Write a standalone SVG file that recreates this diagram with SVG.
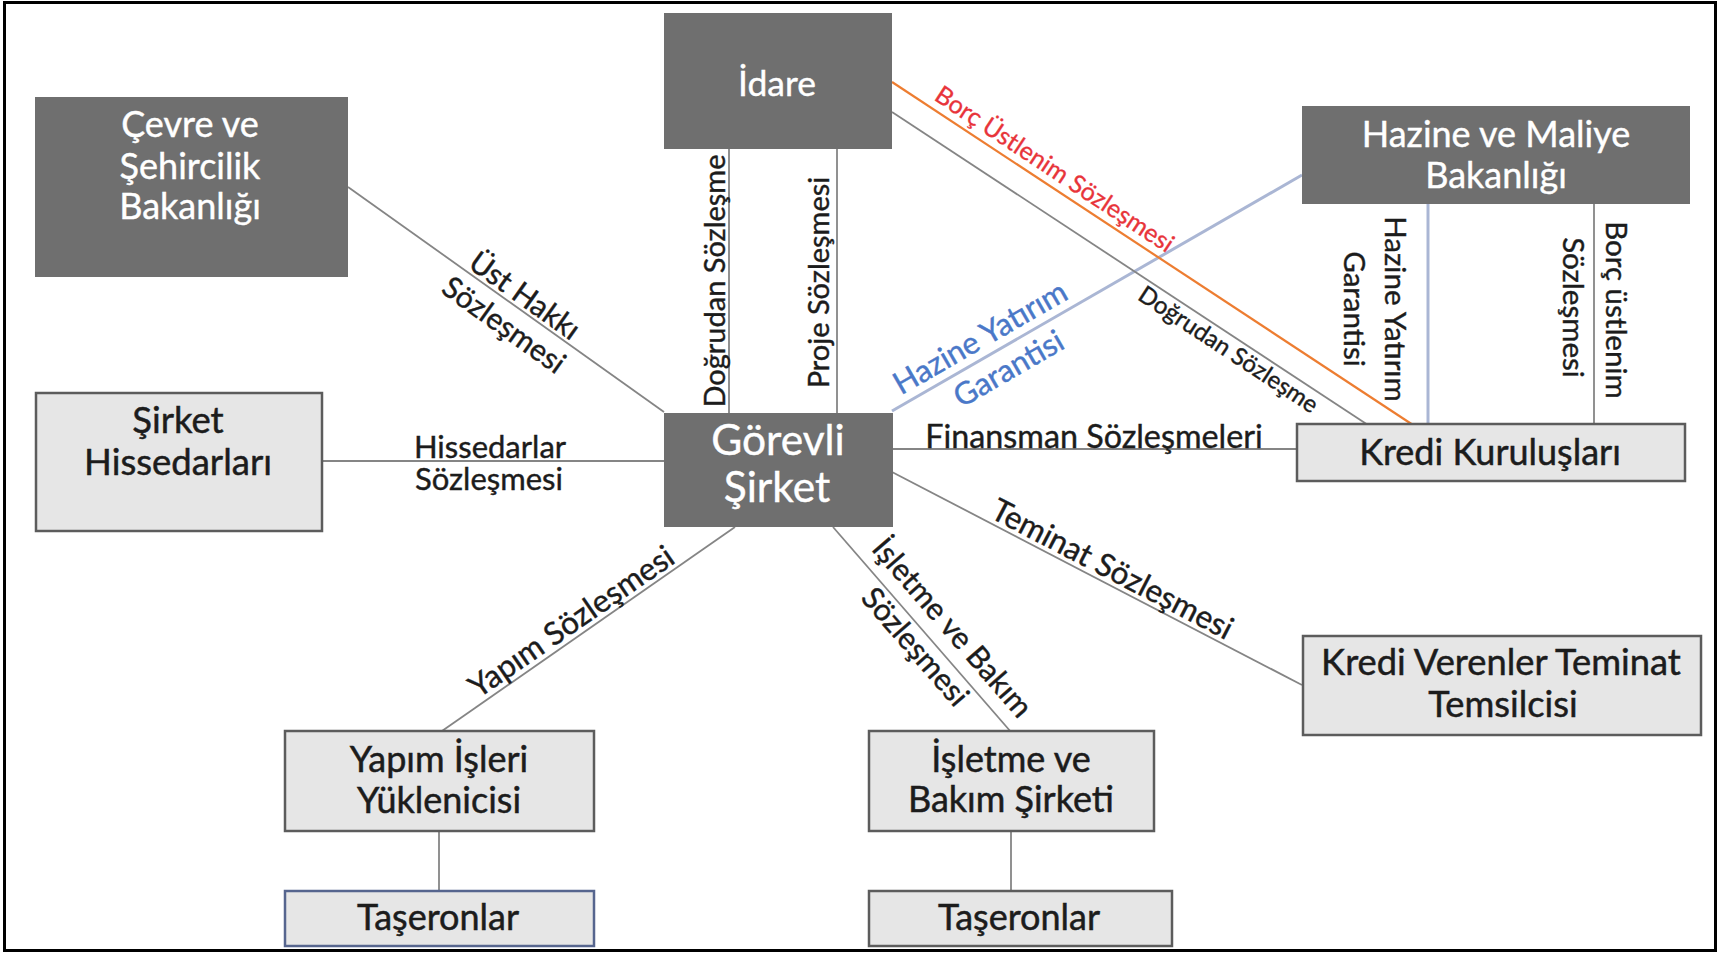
<svg xmlns="http://www.w3.org/2000/svg" width="1719" height="954" viewBox="0 0 1719 954">
<style>
.dark{fill:#6f6f6f}
.light{fill:#e6e6e6;stroke:#5c5c5c;stroke-width:2.5}
.blueb{fill:#e6e6e6;stroke:#56658e;stroke-width:2.5}
.wt{font-family:Lato,"Liberation Sans",sans-serif;fill:#ffffff;stroke:#ffffff;stroke-width:0.4;text-anchor:middle}
.bt{font-family:Lato,"Liberation Sans",sans-serif;fill:#1c1c1c;stroke:#1c1c1c;stroke-width:0.5;text-anchor:middle}
.lb{font-family:Lato,"Liberation Sans",sans-serif;fill:#1c1c1c;stroke:#1c1c1c;stroke-width:0.4;text-anchor:middle}
.blt{fill:#4a78c8;stroke:#4a78c8}
.rdt{fill:#e8343a;stroke:#e8343a;stroke-width:0.3}
.ln{stroke:#858585;stroke-width:1.8;fill:none}
.bl{stroke:#aab6d4;stroke-width:3;fill:none}
.or{stroke:#ed7d31;stroke-width:2.2;fill:none}
</style>
<rect x="0" y="0" width="1719" height="954" fill="#ffffff"/>
<rect x="4.5" y="2.5" width="1711" height="948" fill="none" stroke="#000" stroke-width="3"/>

<g id="connectors">
  <line class="ln" x1="348" y1="187" x2="664" y2="412"/>
  <line class="ln" x1="322" y1="461" x2="664" y2="461"/>
  <line class="ln" x1="729" y1="149" x2="729" y2="413"/>
  <line class="ln" x1="837" y1="149" x2="837" y2="413"/>
  <line class="ln" x1="735" y1="527" x2="442" y2="731"/>
  <line class="ln" x1="833" y1="527" x2="1011" y2="732"/>
  <line class="ln" x1="892" y1="472" x2="1302" y2="685"/>
  <line class="ln" x1="892" y1="449" x2="1297" y2="449"/>
  <line class="bl" x1="892" y1="411" x2="1302" y2="175"/>
  <line class="ln" x1="892" y1="112" x2="1368" y2="425"/>
  <line class="or" x1="892" y1="82" x2="1413" y2="425"/>
  <line class="bl" x1="1428" y1="204" x2="1428" y2="425" stroke-width="2.2"/>
  <line class="ln" x1="1594" y1="204" x2="1594" y2="425"/>
  <line class="ln" x1="439" y1="831" x2="439" y2="891"/>
  <line class="ln" x1="1011" y1="831" x2="1011" y2="891"/>

  <g transform="translate(516.5,307.3) rotate(35.5)">
    <text class="lb" x="0" y="-4" font-size="30">Üst Hakkı</text>
    <text class="lb" x="0" y="32" font-size="30">Sözleşmesi</text>
  </g>
  <text class="lb" x="490" y="458" font-size="31">Hissedarlar</text>
  <text class="lb" x="489" y="490" font-size="31">Sözleşmesi</text>
  <text class="lb" font-size="29" transform="translate(725,281) rotate(-90)">Doğrudan Sözleşme</text>
  <text class="lb" font-size="29" transform="translate(829,282.5) rotate(-90)">Proje Sözleşmesi</text>
  <g transform="translate(993.8,351.3) rotate(-30)">
    <text class="lb blt" x="-5" y="-8" font-size="31">Hazine Yatırım</text>
    <text class="lb blt" x="4" y="33" font-size="31">Garantisi</text>
  </g>
  <text class="lb rdt" font-size="25" transform="translate(1045.4,183) rotate(33.36)" y="-8">Borç Üstlenim Sözleşmesi</text>
  <text class="lb" font-size="24" stroke-width="0.3" transform="translate(1236,338) rotate(33.33)" y="22">Doğrudan Sözleşme</text>
  <text class="lb" x="1094" y="448" font-size="32.3">Finansman Sözleşmeleri</text>
  <g transform="translate(1385,309) rotate(90)">
    <text class="lb" x="0" y="0" font-size="29.5">Hazine Yatırım</text>
    <text class="lb" x="0" y="41" font-size="29.5">Garantisi</text>
  </g>
  <g transform="translate(1606,310) rotate(90)">
    <text class="lb" x="0" y="0" font-size="29.5">Borç üstlenim</text>
    <text class="lb" x="-2.5" y="43" font-size="29.5">Sözleşmesi</text>
  </g>
  <text class="lb" font-size="31.5" transform="translate(1105,583) rotate(27.45)" y="-5">Teminat Sözleşmesi</text>
  <g transform="translate(931.4,639.3) rotate(49)">
    <text class="lb" x="5" y="-13" font-size="30.5">İşletme ve Bakım</text>
    <text class="lb" x="-5" y="27.5" font-size="30.5">Sözleşmesi</text>
  </g>
  <text class="lb" font-size="31.5" transform="translate(580.4,634.5) rotate(-34.6)" y="-5">Yapım Sözleşmesi</text>
</g>

<g id="idare">
  <rect class="dark" x="664" y="13" width="228" height="136"/>
  <text class="wt" x="777" y="96" font-size="35.5">İdare</text>
</g>
<g id="cevre">
  <rect class="dark" x="35" y="97" width="313" height="180"/>
  <text class="wt" x="190" y="137" font-size="36">Çevre ve</text>
  <text class="wt" x="190" y="179" font-size="36">Şehircilik</text>
  <text class="wt" x="190" y="219" font-size="36">Bakanlığı</text>
</g>
<g id="hazine">
  <rect class="dark" x="1302" y="106" width="388" height="98"/>
  <text class="wt" x="1496" y="147" font-size="36">Hazine ve Maliye</text>
  <text class="wt" x="1496" y="188" font-size="36">Bakanlığı</text>
</g>
<g id="gorevli">
  <rect class="dark" x="664" y="413" width="229" height="114"/>
  <text class="wt" x="778" y="455" font-size="42.5">Görevli</text>
  <text class="wt" x="777" y="502" font-size="42.5">Şirket</text>
</g>
<g id="hissedarlar">
  <rect class="light" x="36" y="393" width="286" height="138"/>
  <text class="bt" x="178" y="433" font-size="36.5">Şirket</text>
  <text class="bt" x="178" y="475" font-size="36.5">Hissedarları</text>
</g>
<g id="kredi">
  <rect class="light" x="1297" y="424" width="388" height="57"/>
  <text class="bt" x="1490" y="465" font-size="36">Kredi Kuruluşları</text>
</g>
<g id="teminat">
  <rect class="light" x="1303" y="636" width="398" height="99"/>
  <text class="bt" x="1501" y="675" font-size="36.3">Kredi Verenler Teminat</text>
  <text class="bt" x="1503" y="717" font-size="36.3">Temsilcisi</text>
</g>
<g id="yapim">
  <rect class="light" x="285" y="731" width="309" height="100"/>
  <text class="bt" x="439" y="772" font-size="36">Yapım İşleri</text>
  <text class="bt" x="439" y="813" font-size="36">Yüklenicisi</text>
</g>
<g id="taseron1">
  <rect class="blueb" x="285" y="891" width="309" height="55"/>
  <text class="bt" x="438" y="930" font-size="36">Taşeronlar</text>
</g>
<g id="isletme">
  <rect class="light" x="869" y="731" width="285" height="100"/>
  <text class="bt" x="1011" y="772" font-size="36">İşletme ve</text>
  <text class="bt" x="1011" y="812" font-size="36">Bakım Şirketi</text>
</g>
<g id="taseron2">
  <rect class="light" x="869" y="891" width="303" height="55"/>
  <text class="bt" x="1019" y="930" font-size="36">Taşeronlar</text>
</g>
</svg>
